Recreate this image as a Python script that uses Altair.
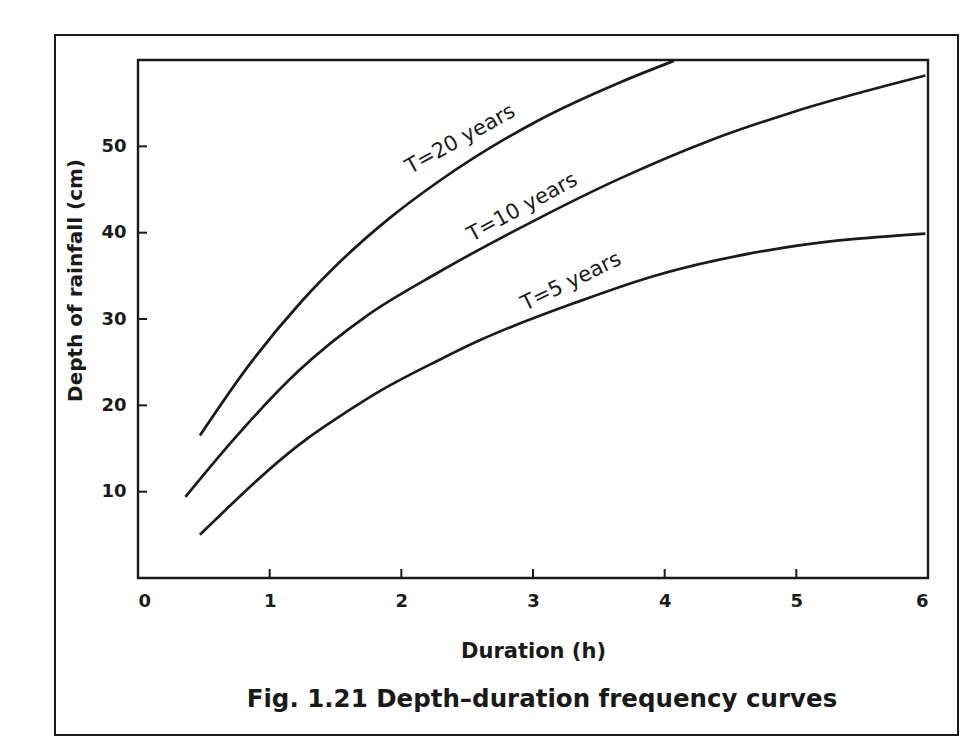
import altair as alt
import pandas as pd

# ---- data ----
t20_x = [0.47, 0.84, 1.24, 1.56, 1.92, 2.28, 3.04, 3.66, 4.07]
t20_y = [16.5, 24.6, 32.0, 37.0, 41.8, 45.9, 53.0, 57.4, 59.9]

t10_x = [0.36, 0.74, 1.22, 1.74, 2.27, 3.01, 3.65, 4.33, 4.96, 5.98]
t10_y = [9.4, 16.3, 24.0, 30.4, 35.3, 41.4, 46.2, 50.6, 53.9, 58.2]

t5_x = [0.47, 1.29, 1.58, 1.82, 2.28, 2.59, 3.36, 3.90, 4.92, 5.98]
t5_y = [5.0, 16.2, 19.2, 21.5, 25.2, 27.5, 32.1, 34.9, 38.3, 39.9]

label_text = ["T=20 years", "T=10 years", "T=5 years"]
label_x = [2.45, 2.92, 3.29]
label_y = [50.8, 42.9, 34.3]
label_angle = [331, 331.5, 334]

x_tick_labels = [0, 1, 2, 3, 4, 5, 6]
x_tick_marks = [1, 2, 3, 4, 5]
y_tick_labels = [10, 20, 30, 40, 50]

caption_text = ["Fig. 1.21 Depth\u2013duration frequency curves"]

FONT = "DejaVu Sans"
INK = "#1a1a1a"

rows = []
for name, xs, ys in [("T=20", t20_x, t20_y), ("T=10", t10_x, t10_y), ("T=5", t5_x, t5_y)]:
    for xv, yv in zip(xs, ys):
        rows.append({"series": name, "duration": xv, "depth": yv})
curves = pd.DataFrame(rows)

labels = pd.DataFrame({"text": label_text, "duration": label_x, "depth": label_y, "angle": label_angle})
xticks = pd.DataFrame({"duration": x_tick_marks})
yticks = pd.DataFrame({"depth": y_tick_labels})
caption = pd.DataFrame({"caption": caption_text})

x_scale = alt.Scale(domain=[0, 6], nice=False, zero=False)
y_scale = alt.Scale(domain=[0, 60], nice=False)

x_axis = alt.Axis(values=x_tick_labels, title="Duration (h)", ticks=False, domain=False, grid=False,
                  labelPadding=14, labelFont=FONT, labelFontSize=18, labelFontWeight="bold",
                  labelColor=INK, titleFont=FONT, titleFontSize=21, titleFontWeight="bold",
                  titleColor=INK, titlePadding=30, format="d")
y_axis = alt.Axis(values=y_tick_labels, title="Depth of rainfall (cm)", ticks=False, domain=False, grid=False,
                  labelPadding=12, labelFont=FONT, labelFontSize=18, labelFontWeight="bold",
                  labelColor=INK, titleFont=FONT, titleFontSize=20, titleFontWeight="bold",
                  titleColor=INK, titleX=-63, titleY=220, titleAngle=270, titleAlign="center",
                  titleBaseline="middle", format="d")

lines = alt.Chart(curves).mark_line(color=INK, strokeWidth=2.7, interpolate="monotone").encode(
    x=alt.X("duration:Q", scale=x_scale, axis=x_axis),
    y=alt.Y("depth:Q", scale=y_scale, axis=y_axis),
    detail="series:N",
)

text = alt.Chart(labels).mark_text(font=FONT, fontSize=21, color=INK).encode(
    x="duration:Q",
    y="depth:Q",
    text="text:N",
    angle=alt.Angle("angle:Q", scale=None),
)

xt = alt.Chart(xticks).mark_rule(color=INK, strokeWidth=2).encode(
    x="duration:Q", y=alt.value(518), y2=alt.value(509)
)
yt = alt.Chart(yticks).mark_rule(color=INK, strokeWidth=2).encode(
    y="depth:Q", x=alt.value(0), x2=alt.value(9)
)

frame = alt.Chart(pd.DataFrame({"f": [0]})).mark_rect(filled=False, stroke=INK, strokeWidth=2).encode(
    x=alt.value(-83), x2=alt.value(820), y=alt.value(-25), y2=alt.value(675)
)

cap = alt.Chart(caption).mark_text(font=FONT, fontSize=24.5, fontWeight="bold", color=INK,
                                   align="center", baseline="middle").encode(
    text="caption:N", x=alt.value(404), y=alt.value(640)
)

chart = alt.layer(frame, lines, text, xt, yt, cap).properties(
    width=790,
    height=518,
    autosize=alt.AutoSizeParams(type="none"),
    padding={"left": 130, "top": 52, "right": 40, "bottom": 160},
    background="white",
).configure_view(stroke=INK, strokeWidth=2.4)

chart.save("out.html", embed_options={"renderer": "svg", "actions": False})
